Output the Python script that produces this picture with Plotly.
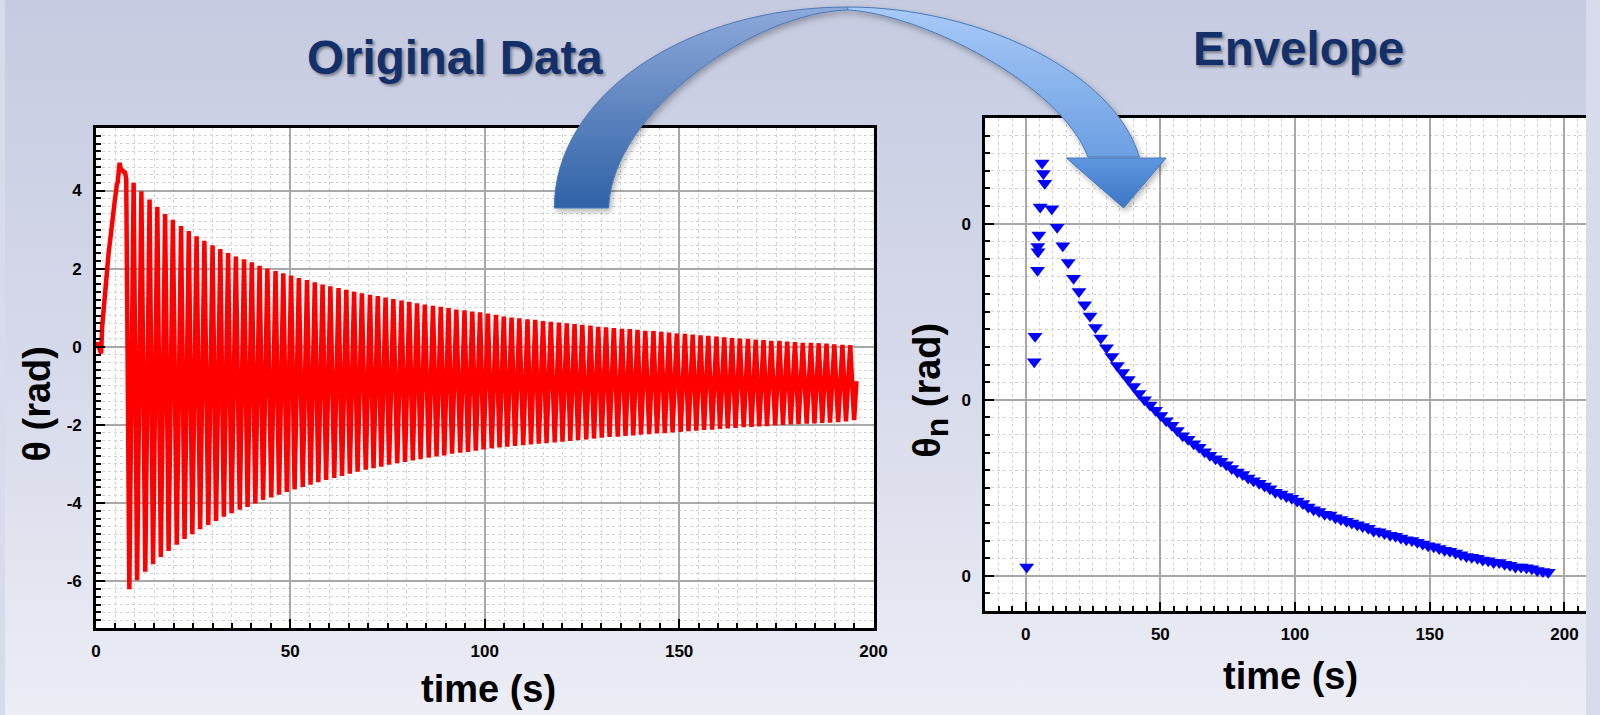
import base64
import plotly.graph_objects as go

# ---------------- data ----------------
# start-up transient of the pendulum angle (s, rad)
start_t = [0.0, 0.5, 0.9, 1.35, 1.6, 2.0, 2.5, 3.05, 3.3, 3.7, 4.15, 4.8, 5.4, 5.6, 6.1, 6.35, 6.9, 7.5, 7.8]
start_theta = [0.0, 0.1, -0.05, -0.17, 0.5, 1.03, 1.6, 2.23, 2.44, 2.75, 3.26, 3.69, 4.16, 4.2, 4.71, 4.57, 4.5, 4.46, 4.3]

# oscillation maxima (s, rad)
peak_t = [9.7, 11.7, 13.8, 15.8, 17.8, 19.8, 21.9, 23.9, 25.9, 27.9, 30.0, 32.0, 34.0, 36.0, 38.1, 40.1,
          42.1, 44.1, 46.2, 48.2, 50.2, 52.2, 54.3, 56.3, 58.3, 60.3, 62.4, 64.4, 66.4, 68.4, 70.5, 72.5,
          74.5, 76.5, 78.6, 80.6, 82.6, 84.6, 86.7, 88.7, 90.7, 92.7, 94.8, 96.8, 98.8, 100.8, 102.9, 104.9,
          106.9, 108.9, 111.0, 113.0, 115.0, 117.0, 119.1, 121.1, 123.1, 125.1, 127.2, 129.2, 131.2, 133.2,
          135.3, 137.3, 139.3, 141.3, 143.4, 145.4, 147.4, 149.4, 151.5, 153.5, 155.5, 157.5, 159.6, 161.6,
          163.6, 165.6, 167.7, 169.7, 171.7, 173.7, 175.8, 177.8, 179.8, 181.8, 183.9, 185.9, 187.9, 189.9,
          192.0, 194.0]
peak_theta = [4.20, 3.98, 3.77, 3.58, 3.40, 3.25, 3.09, 2.96, 2.83, 2.71, 2.60, 2.50, 2.40, 2.31, 2.24, 2.16,
              2.07, 2.00, 1.94, 1.88, 1.82, 1.76, 1.71, 1.65, 1.59, 1.55, 1.50, 1.46, 1.41, 1.37, 1.33, 1.30,
              1.26, 1.22, 1.18, 1.15, 1.11, 1.08, 1.05, 1.02, 0.99, 0.95, 0.93, 0.90, 0.88, 0.85, 0.82, 0.77,
              0.75, 0.73, 0.70, 0.69, 0.66, 0.64, 0.62, 0.60, 0.58, 0.56, 0.54, 0.51, 0.50, 0.48, 0.46, 0.45,
              0.43, 0.41, 0.40, 0.38, 0.36, 0.34, 0.33, 0.31, 0.29, 0.28, 0.26, 0.24, 0.22, 0.21, 0.20, 0.18,
              0.17, 0.15, 0.15, 0.13, 0.12, 0.10, 0.10, 0.09, 0.08, 0.06, 0.05, 0.04]

# oscillation minima (s, rad)
trough_t = [8.6, 10.6, 12.7, 14.7, 16.7, 18.7, 20.8, 22.8, 24.8, 26.8, 28.9, 30.9, 32.9, 34.9, 37.0, 39.0,
            41.0, 43.0, 45.1, 47.1, 49.1, 51.1, 53.2, 55.2, 57.2, 59.2, 61.3, 63.3, 65.3, 67.3, 69.4, 71.4,
            73.4, 75.4, 77.5, 79.5, 81.5, 83.5, 85.6, 87.6, 89.6, 91.6, 93.7, 95.7, 97.7, 99.7, 101.8, 103.8,
            105.8, 107.8, 109.9, 111.9, 113.9, 115.9, 118.0, 120.0, 122.0, 124.0, 126.1, 128.1, 130.1, 132.1,
            134.2, 136.2, 138.2, 140.2, 142.3, 144.3, 146.3, 148.3, 150.4, 152.4, 154.4, 156.4, 158.5, 160.5,
            162.5, 164.5, 166.6, 168.6, 170.6, 172.6, 174.7, 176.7, 178.7, 180.7, 182.8, 184.8, 186.8, 188.8,
            190.9, 192.9, 195.0]
trough_theta = [-6.21, -5.98, -5.76, -5.57, -5.38, -5.23, -5.07, -4.92, -4.80, -4.67, -4.56, -4.46, -4.35,
                -4.26, -4.17, -4.10, -4.01, -3.92, -3.86, -3.79, -3.72, -3.65, -3.59, -3.53, -3.47, -3.41,
                -3.36, -3.31, -3.25, -3.20, -3.15, -3.11, -3.07, -3.02, -2.98, -2.95, -2.91, -2.88, -2.84,
                -2.81, -2.78, -2.74, -2.71, -2.69, -2.66, -2.63, -2.60, -2.58, -2.56, -2.54, -2.52, -2.50,
                -2.48, -2.47, -2.45, -2.43, -2.41, -2.39, -2.37, -2.35, -2.33, -2.31, -2.30, -2.28, -2.27,
                -2.25, -2.24, -2.22, -2.21, -2.19, -2.18, -2.16, -2.15, -2.13, -2.12, -2.10, -2.09, -2.08,
                -2.06, -2.05, -2.04, -2.03, -2.01, -2.00, -1.99, -1.98, -1.97, -1.96, -1.95, -1.94, -1.93,
                -1.91, -1.88]

end_t = [195.6]
end_theta = [-0.88]

# envelope (right panel): early detections during the transient, then one value per maximum
env_early_t = [0.4, 3.2, 3.5, 4.4, 4.5, 4.6, 4.9, 5.4, 6.1, 6.6, 7.1]
env_early = [0.010, 0.243, 0.272, 0.347, 0.374, 0.368, 0.387, 0.419, 0.469, 0.457, 0.446]
env_peak = [0.417, 0.396, 0.375, 0.356, 0.338, 0.323, 0.308, 0.295, 0.282, 0.270, 0.259, 0.249, 0.239,
            0.231, 0.223, 0.215, 0.207, 0.200, 0.194, 0.188, 0.182, 0.176, 0.171, 0.165, 0.159, 0.155,
            0.150, 0.146, 0.141, 0.137, 0.133, 0.130, 0.126, 0.122, 0.118, 0.115, 0.111, 0.108, 0.105,
            0.102, 0.099, 0.095, 0.093, 0.090, 0.088, 0.085, 0.082, 0.078, 0.075, 0.073, 0.070, 0.069,
            0.066, 0.064, 0.062, 0.060, 0.058, 0.056, 0.054, 0.051, 0.050, 0.048, 0.046, 0.045, 0.043,
            0.041, 0.040, 0.038, 0.036, 0.034, 0.033, 0.031, 0.029, 0.028, 0.026, 0.024, 0.022, 0.021,
            0.020, 0.018, 0.017, 0.015, 0.015, 0.013, 0.012, 0.010, 0.010, 0.009, 0.008, 0.006, 0.005, 0.004]

left_xticks = [0, 50, 100, 150, 200]
left_xtext = ["0", "50", "100", "150", "200"]
left_yticks = [-6, -4, -2, 0, 2, 4]
left_ytext = ["-6", "-4", "-2", "0", "2", "4"]
right_xticks = [0, 50, 100, 150, 200]
right_xtext = ["0", "50", "100", "150", "200"]
right_yticks = [0, 0.2, 0.4]
right_ytext = ["0", "0", "0"]

# ---------------- assemble the oscillation trace ----------------
osc_t = list(start_t)
osc_theta = list(start_theta)
for i in range(len(trough_t)):
    osc_t.append(trough_t[i]); osc_theta.append(trough_theta[i])
    if i < len(peak_t):
        osc_t.append(peak_t[i]); osc_theta.append(peak_theta[i])
osc_t += end_t
osc_theta += end_theta

env_t = env_early_t + peak_t
env_v = env_early + env_peak

W, H = 1600, 715
FONT = "Arial, Liberation Sans, sans-serif"


def svg_uri(svg):
    return "data:image/svg+xml;base64," + base64.b64encode(svg.encode("utf-8")).decode("ascii")


bg_svg = f'''<svg xmlns="http://www.w3.org/2000/svg" width="{W}" height="{H}" viewBox="0 0 {W} {H}" preserveAspectRatio="none">
<defs><linearGradient id="g" x1="0" y1="0" x2="0" y2="1">
<stop offset="0" stop-color="#C6CBE1"/><stop offset="0.55" stop-color="#D8DBEB"/><stop offset="1" stop-color="#ECEDF5"/>
</linearGradient></defs>
<rect width="{W}" height="{H}" fill="url(#g)"/></svg>'''

arrow_svg = f'''<svg xmlns="http://www.w3.org/2000/svg" width="{W}" height="{H}" viewBox="0 0 {W} {H}" preserveAspectRatio="none">
<defs>
<linearGradient id="gl" x1="0" y1="0" x2="0" y2="1"><stop offset="0" stop-color="#8EA9DA"/><stop offset="1" stop-color="#2F62A6"/></linearGradient>
<linearGradient id="gr" x1="0" y1="0" x2="0" y2="1"><stop offset="0" stop-color="#A8CAF8"/><stop offset="1" stop-color="#6C9FE2"/></linearGradient>
<linearGradient id="gh" x1="0" y1="0" x2="0" y2="1"><stop offset="0" stop-color="#5E97E0"/><stop offset="1" stop-color="#3C76C3"/></linearGradient>
<filter id="sh" x="-20%" y="-20%" width="140%" height="140%"><feDropShadow dx="2" dy="3" stdDeviation="3" flood-color="#000" flood-opacity="0.3"/></filter>
</defs>
<g filter="url(#sh)" stroke="#4A78B6" stroke-width="1">
<path d="M556,208 C556,96 688,7 853,7 L853,10 C758,12 614,112 611,208 Z" fill="url(#gl)"/>
<path d="M853,7 C982,7 1122,70 1148,157 L1096,157 C1068,84 928,14 853,10 Z" fill="url(#gr)"/>
<path d="M1074,158 L1175,158 L1132,208 Z" fill="url(#gh)"/>
</g></svg>'''

fig = go.Figure()
fig.add_trace(go.Scatter(x=osc_t, y=osc_theta, mode="lines",
                         line=dict(color="#FF0000", width=4.5), xaxis="x", yaxis="y",
                         showlegend=False, hoverinfo="skip"))
fig.add_trace(go.Scatter(x=env_t, y=env_v, mode="markers",
                         marker=dict(symbol="triangle-down", size=13, color="#0000FF", line=dict(width=0)),
                         xaxis="x2", yaxis="y2", showlegend=False))


def ax(domain, rng, tickvals, ticktext, minor_dtick, mirror, anchor, **kw):
    return dict(
        domain=domain, range=rng, tickvals=tickvals, ticktext=ticktext, anchor=anchor,
        ticks="inside", ticklen=9, tickwidth=2, tickcolor="black",
        showline=True, linewidth=2.5, linecolor="black", mirror=mirror,
        showgrid=True, gridcolor="#A8A8A8", gridwidth=1.5, zeroline=False,
        tickfont=dict(family=FONT, size=17, color="black", weight="bold"),
        minor=dict(dtick=minor_dtick, ticks="inside", ticklen=5, tickwidth=1.5, tickcolor="black",
                   showgrid=True, gridcolor="#D2D2D2", griddash="dot", gridwidth=1),
        **kw)


fig.update_layout(
    width=W, height=H, autosize=False,
    margin=dict(l=0, r=0, t=0, b=0),
    paper_bgcolor="#D8DBEB", plot_bgcolor="white",
    xaxis=ax([92 / W, 879 / W], [0, 200], left_xticks, left_xtext, 5, True, "y", ticklabelstandoff=6),
    yaxis=ax([1 - 628 / H, 1 - 128 / H], [-7.2, 5.6], left_yticks, left_ytext, 0.2, True, "x",
             ticklabelstandoff=8),
    xaxis2=ax([992 / W, 1.0], [-15, 208], right_xticks, right_xtext, 5, True, "y2", ticklabelstandoff=6),
    yaxis2=ax([1 - 611 / H, 1 - 118 / H], [-0.04, 0.52], right_yticks, right_ytext, 0.02, False, "x2",
              ticklabelstandoff=8),
    images=[
        dict(source=svg_uri(bg_svg), xref="paper", yref="paper", x=0, y=1, sizex=1, sizey=1,
             xanchor="left", yanchor="top", sizing="stretch", layer="below"),
        dict(source=svg_uri(arrow_svg), xref="paper", yref="paper", x=0, y=1, sizex=1, sizey=1,
             xanchor="left", yanchor="top", sizing="stretch", layer="above"),
    ],
    shapes=[
        dict(type="rect", xref="x domain", yref="y domain", x0=0, x1=1, y0=0, y1=1,
             fillcolor="white", line=dict(width=0), layer="below"),
        dict(type="rect", xref="x2 domain", yref="y2 domain", x0=0, x1=1, y0=0, y1=1,
             fillcolor="white", line=dict(width=0), layer="below"),
    ],
)

title_font = dict(family=FONT, size=47.5, color="#13306B", weight="bold", shadow="2px 2px 3px rgba(0,0,0,0.4)")
axis_font = dict(family=FONT, size=38, color="black", weight="bold")
ann = [
    dict(text="Original Data", x=455 / W, y=1 - 57 / H, font=title_font),
    dict(text="Envelope", x=1309 / W, y=1 - 48 / H, font=title_font),
    dict(text="time (s)", x=489 / W, y=1 - 689 / H, font=axis_font),
    dict(text="time (s)", x=1301 / W, y=1 - 676 / H, font=axis_font),
    dict(text="θ (rad)", x=32 / W, y=1 - 404 / H, font=axis_font, textangle=-90),
    dict(text='θ<sub><span style="font-size:32px">n</span></sub> (rad)', x=937 / W, y=1 - 390 / H,
         font=axis_font, textangle=-90),
]
for a in ann:
    fig.add_annotation(xref="paper", yref="paper", showarrow=False, xanchor="center", yanchor="middle", **a)

fig.write_html(
    "out.html",
    config={"displayModeBar": False, "responsive": False},
    post_script=(
        "document.documentElement.style.overflow='hidden';"
        "document.body.style.margin='0';document.body.style.overflow='hidden';"
        "var gd=document.getElementById('{plot_id}');"
        "Plotly.relayout(gd,{width:1600,height:715});"
    ),
)
